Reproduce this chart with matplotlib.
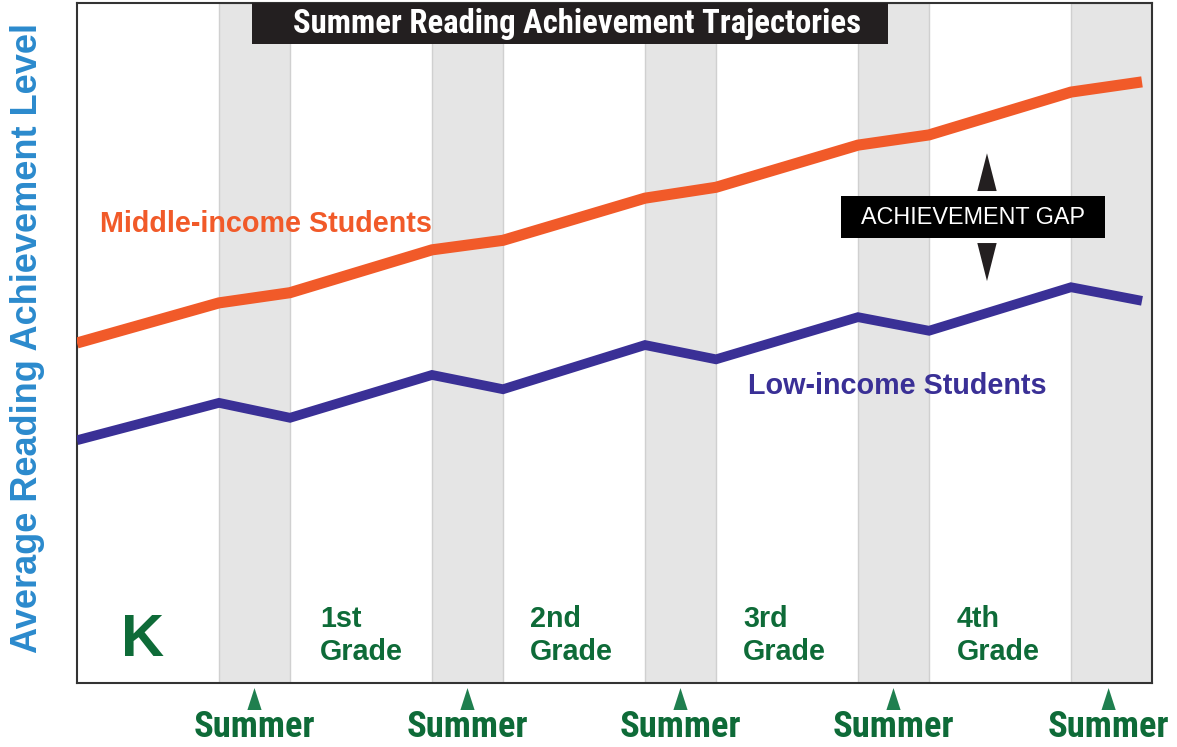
#!/usr/bin/env python3
import matplotlib
matplotlib.use("Agg")
from matplotlib import pyplot as plt
from matplotlib import font_manager
from matplotlib.patches import Polygon, Rectangle
import matplotlib.transforms as mtransforms

# Timeline positions (school year = 2 units, summer = 1 unit)
x_points = [0, 2, 3, 5, 6, 8, 9, 11, 12, 14, 15]
middle_income = [50.0, 55.9, 57.4, 63.7, 65.1, 71.3, 72.9, 79.1, 80.6, 86.9, 88.4]
low_income = [35.7, 41.2, 39.0, 45.3, 43.2, 49.7, 47.6, 53.8, 51.8, 58.2, 56.2]

summer_starts = [2, 5, 8, 11, 14]
summer_ends = [3, 6, 9, 12, 15.14]
grade_labels = ["1st\nGrade", "2nd\nGrade", "3rd\nGrade", "4th\nGrade"]
grade_x = [3.42, 6.38, 9.38, 12.39]

ORANGE = "#f15a29"
BLUE = "#3a3096"
GREEN = "#0e6b38"
TRI_GREEN = "#1f7f4f"
AXIS_BLUE = "#2b8acd"


def pick_narrow():
    # use a condensed bold face if one is installed, otherwise plain Arial-like
    for fam in ["Liberation Sans Narrow", "Roboto Condensed", "Open Sans Condensed"]:
        try:
            font_manager.findfont(font_manager.FontProperties(family=fam, weight="bold"),
                                  fallback_to_default=False)
            return fam, 1.0
        except ValueError:
            pass
    return "Liberation Sans", 0.82


narrow_family, narrow_scale = pick_narrow()

fig = plt.figure(figsize=(11.77, 7.47), dpi=100)
ax = fig.add_axes([77 / 1177, 1 - 683 / 747, 1075 / 1177, 680 / 747])
ax.set_xlim(0, 1075 / 71)
ax.set_ylim(0, 100)
ax.set_xticks([])
ax.set_yticks([])
for s in ax.spines.values():
    s.set_color("#333333")
    s.set_linewidth(1.5)

# summer bands
for a, b in zip(summer_starts, summer_ends):
    ax.axvspan(a, b, facecolor="#e5e5e5", edgecolor="#d0d0d0", linewidth=1, zorder=0)

ax.plot(x_points, middle_income, color=ORANGE, lw=8, solid_capstyle="butt",
        solid_joinstyle="miter", zorder=3)
ax.plot(x_points, low_income, color=BLUE, lw=7, solid_capstyle="butt",
        solid_joinstyle="miter", zorder=3)

bold = dict(family="Liberation Sans", weight="bold")
narrow = dict(family=narrow_family, weight="bold")

ax.text(0.32, 67.5, "Middle-income Students", color=ORANGE, fontsize=20.7,
        va="center", ha="left", zorder=4, **bold)
ax.text(9.45, 43.7, "Low-income Students", color=BLUE, fontsize=20.7,
        va="center", ha="left", zorder=4, **bold)

# title box
ax.add_patch(Rectangle((0.163, 0.9397), 0.591, 0.0603, transform=ax.transAxes,
                       facecolor="#231f20", edgecolor="none", zorder=5))
ax.text(0.465, 0.9698, "Summer Reading Achievement Trajectories", color="white",
        fontsize=23.6 * narrow_scale, ha="center", va="center",
        transform=ax.transAxes, zorder=6, **narrow)

# achievement gap box and arrows
ax.add_patch(Rectangle((0.711, 0.654), 0.245, 0.062, transform=ax.transAxes,
                       facecolor="black", edgecolor="none", zorder=5))
ax.text(0.8335, 0.685, "ACHIEVEMENT GAP", color="white", fontsize=16.8,
        ha="center", va="center", transform=ax.transAxes, zorder=6,
        family="Liberation Sans")
ax.add_patch(Polygon([(0.8375, 0.7235), (0.8555, 0.7235), (0.8465, 0.779)],
                     closed=True, transform=ax.transAxes, facecolor="#231f20",
                     edgecolor="none", zorder=5))
ax.add_patch(Polygon([(0.8375, 0.647), (0.8555, 0.647), (0.8465, 0.591)],
                     closed=True, transform=ax.transAxes, facecolor="#231f20",
                     edgecolor="none", zorder=5))

# grade labels
blend = mtransforms.blended_transform_factory(ax.transData, ax.transAxes)
ax.text(0.92, 0.063, "K", color=GREEN, fontsize=43, ha="center", va="center",
        transform=blend, **bold)
for gx, lab in zip(grade_x, grade_labels):
    ax.text(gx, 0.07, lab, color=GREEN, fontsize=20.7, ha="left", va="center",
            linespacing=1.25, transform=blend, **bold)

# summer markers under the axis
for a, b in zip(summer_starts, summer_ends):
    c = a + 0.5 if b <= a + 1 else a + 0.53
    tri = Polygon([(c - 0.1, -0.0397), (c + 0.1, -0.0397), (c, -0.0074)],
                  closed=True, transform=blend, facecolor=TRI_GREEN,
                  edgecolor="none", clip_on=False)
    ax.add_patch(tri)
    ax.text(c, -0.064, "Summer", color=GREEN, fontsize=26.3 * narrow_scale,
            ha="center", va="center", transform=blend, clip_on=False, **narrow)

fig.text(28 / 1177, 1 - 338 / 747, "Average Reading Achievement Level",
         color=AXIS_BLUE, fontsize=26, rotation=90, ha="center", va="center",
         **bold)

fig.savefig("out.png", dpi=100)
